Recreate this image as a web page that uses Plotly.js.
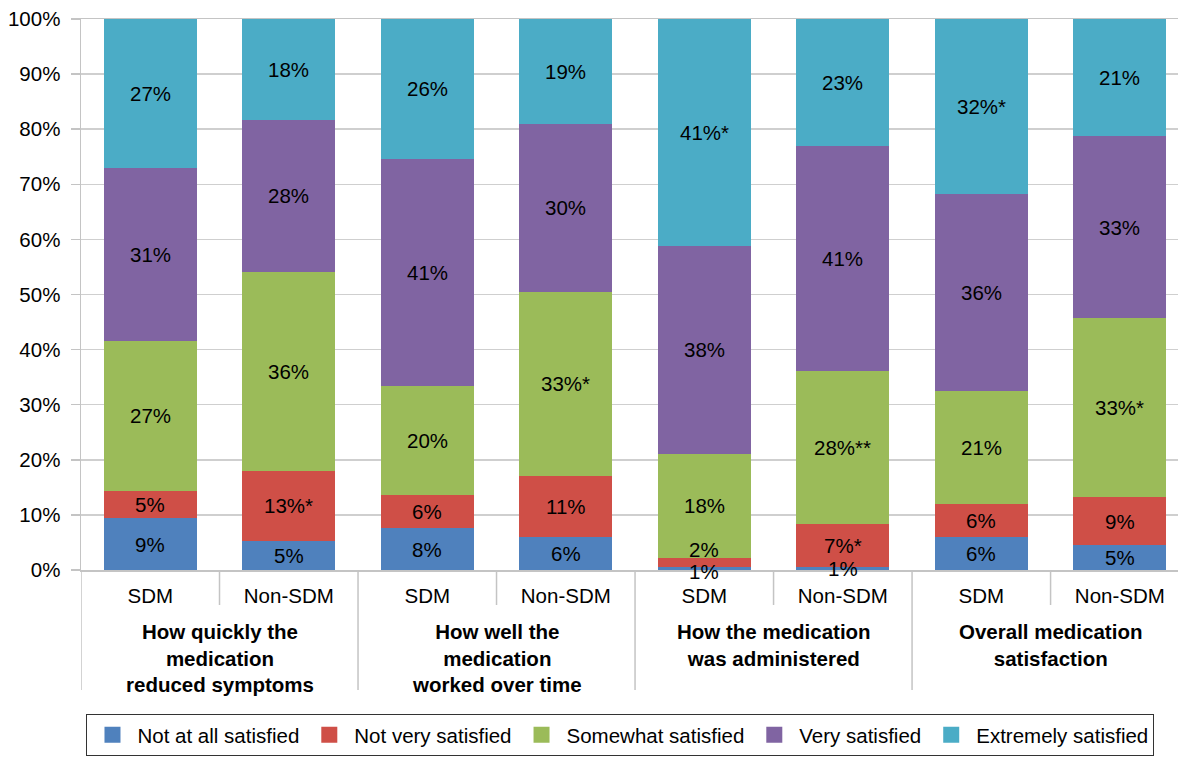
<!DOCTYPE html>
<html><head><meta charset="utf-8">
<script src="https://cdn.plot.ly/plotly-3.0.1.min.js"></script>
<style>html,body{margin:0;padding:0;background:#fff}#chart{width:1178px;height:758px}</style>
</head><body><div id="chart"></div>
<script>
// ---- data ----
const groups = ["How quickly the<br>medication<br>reduced symptoms", "How well the<br>medication<br>worked over time", "How the medication<br>was administered", "Overall medication<br>satisfaction"];
const arms = ["SDM", "Non-SDM", "SDM", "Non-SDM", "SDM", "Non-SDM", "SDM", "Non-SDM"];
const seriesNames = ["Not at all satisfied", "Not very satisfied", "Somewhat satisfied", "Very satisfied", "Extremely satisfied"];
const notAtAll   = [9.4, 5.3, 7.6, 6.0, 0.5, 0.5, 6.0, 4.5];
const notVery    = [5.0, 12.7, 6.0, 11.1, 1.7, 7.8, 6.0, 8.7];
const somewhat   = [27.2, 36.1, 19.8, 33.4, 18.9, 27.8, 20.5, 32.5];
const very       = [31.4, 27.6, 41.2, 30.4, 37.7, 40.9, 35.7, 33.1];
const extremely  = [27.0, 18.3, 25.4, 19.1, 41.2, 23.0, 31.8, 21.2];
const notAtAllLabels  = ["9%", "5%", "8%", "6%", "1%", "1%", "6%", "5%"];
const notVeryLabels   = ["5%", "13%*", "6%", "11%", "2%", "7%*", "6%", "9%"];
const somewhatLabels  = ["27%", "36%", "20%", "33%*", "18%", "28%**", "21%", "33%*"];
const veryLabels      = ["31%", "28%", "41%", "30%", "38%", "41%", "36%", "33%"];
const extremelyLabels = ["27%", "18%", "26%", "19%", "41%*", "23%", "32%*", "21%"];
const yTicks = [0, 10, 20, 30, 40, 50, 60, 70, 80, 90, 100];

// ---- styles ----
const colors = ["#4f81bd", "#cf4f47", "#9bbb59", "#8064a2", "#4bacc6"];
const FONT = "Liberation Sans, Arial, Helvetica, sans-serif";
const series = [notAtAll, notVery, somewhat, very, extremely];
const labels = [notAtAllLabels, notVeryLabels, somewhatLabels, veryLabels, extremelyLabels];
const xIdx = arms.map((_, i) => i);

const traces = series.map((vals, s) => ({
  type: "bar", x: xIdx, y: vals, name: seriesNames[s], showlegend: false,
  marker: {color: colors[s], line: {width: 0}}, width: 0.67, hoverinfo: "skip"
}));
// legend entries (square swatches)
seriesNames.forEach((n, s) => traces.push({
  type: "scatter", mode: "markers", x: [null], y: [null], name: n, showlegend: true,
  marker: {symbol: "square", size: 30, color: colors[s]}, hoverinfo: "skip"
}));

const annotations = [];
xIdx.forEach(i => {
  let base = 0;
  series.forEach((vals, s) => {
    const v = vals[i];
    let shift = 0;
    if (s === 1 && series[0][i] < 1 && v < 2) shift = 13;
    if (s === 0 && v < 1 && series[1][i] < 2) shift = -3;
    annotations.push({x: i, y: base + v / 2, xref: "x", yref: "y", text: labels[s][i],
      showarrow: false, yshift: shift, font: {family: FONT, size: 20.5, color: "#000"}});
    base += v;
  });
});
groups.forEach((g, k) => {
  annotations.push({x: 2 * k + 0.5, y: -0.088, xref: "x", yref: "paper", yanchor: "top",
    text: g, showarrow: false, font: {family: FONT, size: 20.5, color: "#000", weight: "bold"}});
});

const shapes = [];
for (let b = -0.5; b < 7; b += 1) {
  const long = Math.round(b + 0.5) % 2 === 0;
  shapes.push({type: "line", xref: "x", yref: "paper", x0: b, x1: b, y0: 0, y1: long ? -0.218 : -0.0635,
    line: {color: "#c4c4c4", width: 1.5}});
}

const layout = {
  width: 1178, height: 758,
  margin: {l: 81, r: 0, t: 19, b: 188},
  paper_bgcolor: "#fff", plot_bgcolor: "#fff",
  barmode: "stack", showlegend: true,
  font: {family: FONT, size: 20.5, color: "#000"},
  xaxis: {range: [-0.5, 7.42], tickmode: "array", tickvals: xIdx, ticktext: arms, ticks: "",
    showgrid: false, zeroline: false, showline: true, mirror: true, linecolor: "#c4c4c4", linewidth: 1.5,
    tickfont: {family: FONT, size: 20.5, color: "#000"}, ticklabelstandoff: 7, fixedrange: true},
  yaxis: {range: [0, 100], tickmode: "array", tickvals: yTicks, ticktext: yTicks.map(t => t + "%"),
    showgrid: true, gridcolor: "#cfcfcf", gridwidth: 1.5, zeroline: false, showline: true,
    linecolor: "#c4c4c4", linewidth: 1.5, ticks: "outside", ticklen: 9, tickcolor: "#c4c4c4", tickwidth: 1.5,
    tickfont: {family: FONT, size: 20.5, color: "#000"}, ticklabelstandoff: 6, fixedrange: true},
  legend: {orientation: "h", x: 0.005, xanchor: "left", y: -0.261, yanchor: "top",
    bordercolor: "#333", borderwidth: 1, bgcolor: "#fff", traceorder: "normal", itemwidth: 40,
    font: {family: FONT, size: 20.5, color: "#000"}},
  annotations: annotations, shapes: shapes
};

Plotly.newPlot("chart", traces, layout, {staticPlot: true, displayModeBar: false});
</script>
</body></html>
